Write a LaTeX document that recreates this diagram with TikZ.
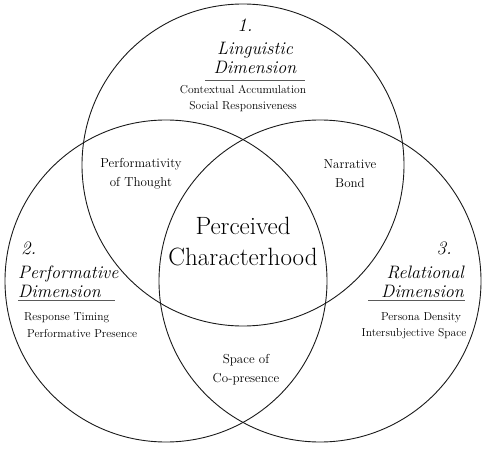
\documentclass[tikz,border=0pt]{standalone}
\usetikzlibrary{positioning}
\definecolor{inkblack}{HTML}{1A1A1A}
\definecolor{rulegray}{HTML}{5A5A5A}

\begin{document}
\begin{tikzpicture}[x=1pt,y=-1pt,
  ring/.style={draw=inkblack, line width=0.9pt},
  dimnum/.style={font=\itshape\fontsize{19}{20}\selectfont, inner sep=0pt},
  dimtitle/.style={font=\itshape\fontsize{18}{18.5}\selectfont, inner sep=0pt},
  dimitems/.style={font=\fontsize{11.5}{16}\selectfont, inner sep=0pt},
  overlap/.style={font=\fontsize{13}{19}\selectfont, align=center, inner sep=0pt},
  dimrule/.style={draw=rulegray, line width=0.8pt}]
\useasboundingbox (0,0) rectangle (487,449);
% the three dimensions
\draw[ring] (243,165) circle[radius=161pt];
\draw[ring] (166,281) circle[radius=161pt];
\draw[ring] (320,281) circle[radius=161pt];

% 1. linguistic
\node[dimnum] (num1) at (245,25) {1.};
\node[dimtitle, align=center] (ling) at (255,58) {Linguistic\\Dimension};
\coordinate (lingL) at (205,80);
\coordinate (lingR) at (305,80);
\draw[dimrule] (lingL) -- (lingR);
\node[dimitems, align=center] (lingitems) at (243,99) {Contextual Accumulation\\Social Responsiveness};

% 2. performative
\node[dimnum, anchor=west] (num2) at (21,248) {2.};
\node[dimtitle, align=left, anchor=west] (perf) at (18,282) {Performative\\Dimension};
\coordinate (perfL) at (18,300);
\coordinate (perfR) at (115,300);
\draw[dimrule] (perfL) -- (perfR);
\node[dimitems, anchor=west] (perfa) at (24,318) {Response Timing};
\node[dimitems, anchor=west] (perfb) at (27,334) {Performative Presence};

% 3. relational
\node[dimnum, anchor=east] (num3) at (452,248) {3.};
\node[dimtitle, align=right, anchor=east] (rel) at (464,282) {Relational\\Dimension};
\coordinate (relL) at (368,300);
\coordinate (relR) at (465,300);
\draw[dimrule] (relL) -- (relR);
\node[dimitems] (rela) at (421,318) {Persona Density};
\node[dimitems] (relb) at (414,334) {Intersubjective Space};

% overlaps
\node[overlap] (thought) at (141,174) {Performativity\\of Thought};
\node[overlap] (bond) at (350,174) {Narrative\\Bond};
\node[overlap] (copres) at (246,370) {Space of\\Co-presence};
\node[font=\fontsize{25}{31}\selectfont, align=center, inner sep=0pt] (core) at (243,242) {Perceived\\Characterhood};
\end{tikzpicture}
\end{document}
